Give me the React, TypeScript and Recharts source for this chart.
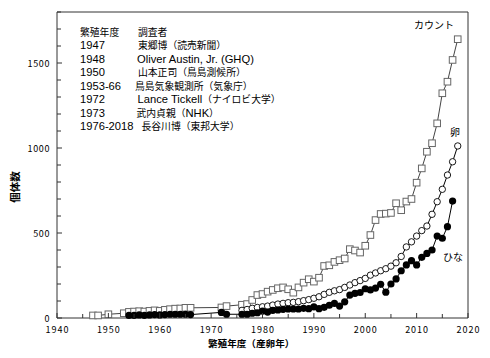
import { Line, LineChart, XAxis, YAxis } from "recharts";

// カウント (total count)
const countYears = [
  1947, 1948, 1950, 1953, 1954, 1955, 1956, 1957, 1958, 1959, 1960, 1961, 1962, 1963, 1964, 1965, 1966,
  1972, 1973, 1976, 1977, 1978, 1979, 1980, 1981, 1982, 1983, 1984, 1985, 1986, 1987, 1988, 1989, 1990,
  1991, 1992, 1993, 1994, 1995, 1996, 1997, 1998, 1999, 2000, 2001, 2002, 2003, 2004, 2005, 2006, 2007,
  2008, 2009, 2010, 2011, 2012, 2013, 2014, 2015, 2016, 2017, 2018,
];
const countValues = [
  15, 15, 22, 28, 36, 38, 40, 38, 42, 45, 42, 48, 52, 55, 56, 60, 60,
  62, 70, 78, 82, 106, 135, 141, 155, 165, 175, 180, 169, 149, 180, 208, 228, 214,
  237, 306, 310, 330, 340, 350, 405, 397, 385, 425, 488, 576, 612, 614, 618, 675, 634,
  685, 700, 796, 880, 978, 1028, 1145, 1322, 1390, 1518, 1640,
];

// 卵 (eggs)
const eggYears = [
  1976, 1977, 1978, 1979, 1980, 1981, 1982, 1983, 1984, 1985, 1986, 1987, 1988, 1989, 1990, 1991, 1992,
  1993, 1994, 1995, 1996, 1997, 1998, 1999, 2000, 2001, 2002, 2003, 2004, 2005, 2006, 2007, 2008, 2009,
  2010, 2011, 2012, 2013, 2014, 2015, 2016, 2017, 2018,
];
const eggValues = [
  45, 50, 57, 62, 66, 70, 76, 82, 86, 90, 92, 96, 102, 108, 116, 125, 139,
  151, 160, 167, 180, 194, 208, 220, 233, 252, 265, 278, 290, 305, 325, 362, 418, 448,
  482, 514, 541, 610, 684, 757, 841, 919, 1012,
];

// ひな (chicks)
const chickYears = [
  1954, 1955, 1956, 1957, 1958, 1959, 1960, 1961, 1962, 1963, 1964, 1965, 1966, 1972, 1973,
  1976, 1977, 1978, 1979, 1980, 1981, 1982, 1983, 1984, 1985, 1986, 1987, 1988, 1989, 1990, 1991, 1992,
  1993, 1994, 1995, 1996, 1997, 1998, 1999, 2000, 2001, 2002, 2003, 2004, 2005, 2006, 2007, 2008, 2009,
  2010, 2011, 2012, 2013, 2014, 2015, 2016, 2017,
];
const chickValues = [
  15, 15, 18, 16, 18, 20, 18, 20, 22, 22, 22, 22, 20, 33, 22,
  22, 22, 28, 31, 40, 35, 45, 47, 51, 53, 53, 53, 57, 55, 66, 55, 63,
  75, 86, 70, 95, 135, 145, 150, 172, 165, 176, 198, 152, 200, 230, 278, 312, 337,
  312, 357, 380, 400, 482, 469, 537, 688,
];

const xTicks = [1940, 1945, 1950, 1955, 1960, 1965, 1970, 1975, 1980, 1985, 1990, 1995, 2000, 2005, 2010, 2015, 2020];
const yTicks = [0, 100, 200, 300, 400, 500, 600, 700, 800, 900, 1000, 1100, 1200, 1300, 1400, 1500, 1600, 1700, 1800];

const legendYears = ["繁殖年度", "1947", "1948", "1950", "1953-66", "1972", "1973", "1976-2018"];
const legendNames = [
  "調査者",
  "東郷博（読売新聞）",
  "Oliver Austin, Jr. (GHQ)",
  "山本正司（鳥島測候所）",
  "鳥島気象観測所（気象庁）",
  "Lance Tickell（ナイロビ大学）",
  "武内貞親（NHK）",
  "長谷川博（東邦大学）",
];
const legendNameX = [138, 138, 137, 138, 135, 137.5, 136.5, 141.5];

const FONT = '"Noto Sans CJK JP", "Noto Sans", sans-serif';
const LATIN = '"Liberation Sans", Arial, sans-serif';
const AXIS = "#333";

const toRows = (years: number[], values: number[]) => years.map((y, i) => ({ year: y, v: values[i] }));

const CJK = /[\u3000-\u9fff\uff00-\uffef]/;

// Japanese glyphs are drawn a bit smaller than the latin ones, as in the original
function Mixed({ text }: { text: string }) {
  const runs = text.match(/[\u3000-\u9fff\uff00-\uffef]+|[^\u3000-\u9fff\uff00-\uffef]+/g) ?? [];
  return (
    <>
      {runs.map((r, i) =>
        CJK.test(r) ? (
          <tspan key={i} fontSize={9.8} fontFamily={FONT}>
            {r}
          </tspan>
        ) : (
          <tspan key={i} fontSize={11.2} fontFamily={LATIN}>
            {r}
          </tspan>
        )
      )}
    </>
  );
}

function BottomTick({ x, y, payload }: any) {
  const major = payload.value % 10 === 0;
  return (
    <g>
      <line x1={x} x2={x} y1={y} y2={y - (major ? 5 : 4)} stroke={AXIS} />
      {major && (
        <text x={x + 0.5} y={y + 15} textAnchor="middle" fontSize={9} letterSpacing={1} fontFamily={FONT} fill="#000">
          {payload.value}
        </text>
      )}
    </g>
  );
}

function TopTick({ x, y, payload }: any) {
  const major = payload.value % 10 === 0;
  return <line x1={x} x2={x} y1={y} y2={y + (major ? 5 : 4)} stroke={AXIS} />;
}

function LeftTick({ x, y, payload }: any) {
  const major = payload.value % 500 === 0;
  return (
    <g>
      <line x1={x} x2={x + (major ? 5 : 4)} y1={y} y2={y} stroke={AXIS} />
      {major && (
        <text x={x - 7} y={y + 3.5} textAnchor="end" fontSize={9} letterSpacing={0.6} fontFamily={FONT} fill="#000">
          {payload.value}
        </text>
      )}
    </g>
  );
}

function RightTick({ x, y, payload }: any) {
  const major = payload.value % 500 === 0;
  return <line x1={x} x2={x - (major ? 5 : 4)} y1={y} y2={y} stroke={AXIS} />;
}

const SquareDot = (p: any) =>
  p.cx == null ? null : (
    <rect key={p.index} x={p.cx - 3.3} y={p.cy - 3.3} width={6.6} height={6.6} fill="#fff" stroke="#666" strokeWidth={1} />
  );
const OpenDot = (p: any) =>
  p.cx == null ? null : <circle key={p.index} cx={p.cx} cy={p.cy} r={3.2} fill="#fff" stroke="#000" strokeWidth={0.9} />;
const FilledDot = (p: any) =>
  p.cx == null ? null : <circle key={p.index} cx={p.cx} cy={p.cy} r={3.6} fill="#000" />;

export default function App() {
  return (
    <div style={{ position: "absolute", left: 0, top: 0, width: 490, height: 358, background: "#fff" }}>
      <LineChart width={490} height={358} margin={{ top: 11, right: 21, bottom: 39, left: 56 }}>
        <XAxis
          xAxisId="b"
          dataKey="year"
          type="number"
          domain={[1940, 2020]}
          ticks={xTicks}
          interval={0}
          height={1}
          tickSize={0}
          tickMargin={0}
          tickLine={false}
          stroke={AXIS}
          tick={(p: any) => <BottomTick {...p} />}
        />
        <XAxis
          xAxisId="t"
          orientation="top"
          dataKey="year"
          type="number"
          domain={[1940, 2020]}
          ticks={xTicks}
          interval={0}
          height={1}
          tickSize={0}
          tickMargin={0}
          tickLine={false}
          stroke={AXIS}
          tick={(p: any) => <TopTick {...p} />}
        />
        <YAxis
          yAxisId="l"
          type="number"
          domain={[0, 1800]}
          ticks={yTicks}
          interval={0}
          width={1}
          tickSize={0}
          tickMargin={0}
          tickLine={false}
          stroke={AXIS}
          tick={(p: any) => <LeftTick {...p} />}
        />
        <YAxis
          yAxisId="r"
          orientation="right"
          type="number"
          domain={[0, 1800]}
          ticks={yTicks}
          interval={0}
          width={1}
          tickSize={0}
          tickMargin={0}
          tickLine={false}
          stroke={AXIS}
          tick={(p: any) => <RightTick {...p} />}
        />
        <Line
          xAxisId="b"
          yAxisId="l"
          data={toRows(countYears, countValues)}
          dataKey="v"
          type="linear"
          stroke="#444"
          strokeWidth={1}
          dot={SquareDot}
          isAnimationActive={false}
        />
        <Line
          xAxisId="b"
          yAxisId="l"
          data={toRows(eggYears, eggValues)}
          dataKey="v"
          type="linear"
          stroke="#000"
          strokeWidth={1}
          dot={OpenDot}
          isAnimationActive={false}
        />
        <Line
          xAxisId="b"
          yAxisId="l"
          data={toRows(chickYears, chickValues)}
          dataKey="v"
          type="linear"
          stroke="#000"
          strokeWidth={1}
          dot={FilledDot}
          isAnimationActive={false}
        />
      </LineChart>
      <svg
        width={490}
        height={358}
        style={{ position: "absolute", left: 0, top: 0, pointerEvents: "none" }}
        fontFamily={FONT}
        fill="#000"
      >
        {legendYears.map((t, i) => (
          <text key={"y" + i} x={80} y={35.5 + i * 13.55}>
            <Mixed text={t} />
          </text>
        ))}
        {legendNames.map((t, i) => (
          <text key={"n" + i} x={legendNameX[i]} y={35.5 + i * 13.55}>
            <Mixed text={t} />
          </text>
        ))}
        <text x={434} y={29} textAnchor="middle" fontSize={10}>
          カウント
        </text>
        <text x={455} y={135.5} textAnchor="middle" fontSize={10}>
          卵
        </text>
        <text x={453} y={261} textAnchor="middle" fontSize={10}>
          ひな
        </text>
        <text x={208} y={347} fontSize={9.6} fontWeight="bold">
          繁殖年度（産卵年）
        </text>
        <text x={15} y={187} fontSize={10.5} fontWeight="bold" textAnchor="middle" transform="rotate(-90 15 187)" dy={3.5}>
          個体数
        </text>
      </svg>
    </div>
  );
}
